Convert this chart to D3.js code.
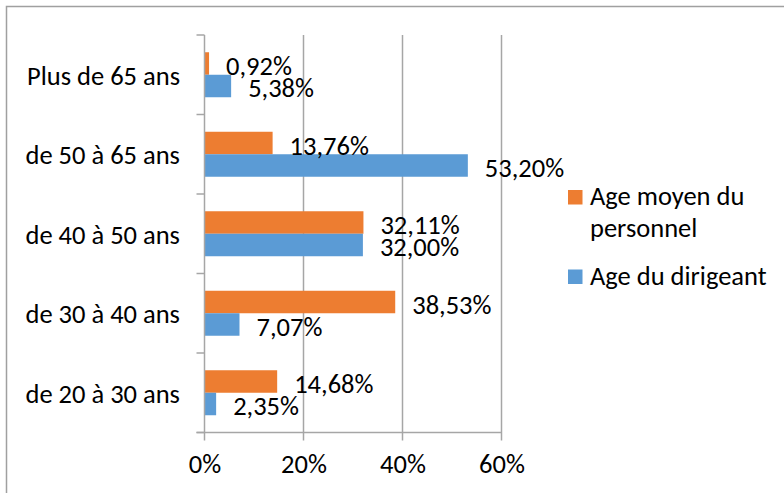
<!DOCTYPE html>
<html>
<head>
<meta charset="utf-8">
<script src="https://cdn.jsdelivr.net/npm/d3@7"></script>
<style>
  html, body { margin: 0; padding: 0; background: #fff; }
  svg { display: block; }
  text { font-family: Carlito, Calibri, Lato, "Open Sans", sans-serif; fill: #000; }
</style>
</head>
<body>
<svg id="chart" width="784" height="493"></svg>
<script>
// Age groups, listed top to bottom
const categories = ["Plus de 65 ans", "de 50 à 65 ans", "de 40 à 50 ans", "de 30 à 40 ans", "de 20 à 30 ans"];
const seriesNames = ["Age moyen du personnel", "Age du dirigeant"];
const personnel = [0.92, 13.76, 32.11, 38.53, 14.68];
const dirigeant = [5.38, 53.20, 32.00, 7.07, 2.35];
const xTicks = [0, 20, 40, 60];

const colors = { "Age moyen du personnel": "#ED7D31", "Age du dirigeant": "#5B9BD5" };
const values = { "Age moyen du personnel": personnel, "Age du dirigeant": dirigeant };

const svg = d3.select("#chart");
const plot = { left: 204.5, right: 501.5, top: 35, bottom: 432.5 };
const fontSize = 26.5;

// Chart frame
svg.append("rect")
  .attr("x", 6.5).attr("y", 6.5)
  .attr("width", 820).attr("height", 520)
  .attr("fill", "none").attr("stroke", "#a0a0a0").attr("stroke-width", 1.5);

const x = d3.scaleLinear().domain([0, 60]).range([plot.left, plot.right]);
const y0 = d3.scaleBand().domain(categories).range([plot.top, plot.bottom]);
const y1 = d3.scaleBand().domain(seriesNames).range([0, y0.bandwidth()]).paddingOuter(0.767);

// Vertical gridlines, extending below the axis as tick marks
svg.append("g").selectAll("line")
  .data(xTicks.filter(d => d > 0))
  .join("line")
  .attr("x1", d => x(d)).attr("x2", d => x(d))
  .attr("y1", plot.top).attr("y2", plot.bottom + 8)
  .attr("stroke", "#a6a6a6").attr("stroke-width", 1.5);

// Bars
const rows = categories.map((c, i) => ({ c, i }));
const groups = svg.append("g").selectAll("g")
  .data(rows)
  .join("g")
  .attr("transform", d => `translate(0,${y0(d.c)})`);

const fmt = v => d3.format(".2f")(v).replace(".", ",") + "%";

groups.selectAll("rect")
  .data(d => seriesNames.map(s => ({ s, v: values[s][d.i] })))
  .join("rect")
  .attr("x", x(0))
  .attr("y", d => y1(d.s))
  .attr("width", d => x(d.v) - x(0))
  .attr("height", y1.bandwidth())
  .attr("fill", d => colors[d.s]);

// Value labels outside the bar ends
groups.selectAll("text")
  .data(d => seriesNames.map(s => ({ s, v: values[s][d.i] })))
  .join("text")
  .attr("x", d => x(d.v) + 17)
  .attr("y", d => y1(d.s) + y1.bandwidth() / 2 + 2.5)
  .attr("dominant-baseline", "central")
  .attr("font-size", fontSize)
  .text(d => fmt(d.v));

// Category axis
const yAxisG = svg.append("g");
yAxisG.append("line")
  .attr("x1", plot.left).attr("x2", plot.left)
  .attr("y1", plot.top).attr("y2", plot.bottom + 8)
  .attr("stroke", "#a6a6a6").attr("stroke-width", 1.5);
yAxisG.selectAll("line.tick")
  .data(categories.map(c => y0(c)).concat([plot.bottom]))
  .join("line")
  .attr("class", "tick")
  .attr("x1", plot.left - 8).attr("x2", plot.left)
  .attr("y1", d => d).attr("y2", d => d)
  .attr("stroke", "#a6a6a6").attr("stroke-width", 1.5);
yAxisG.selectAll("text")
  .data(categories)
  .join("text")
  .attr("x", 180)
  .attr("y", d => y0(d) + y0.bandwidth() / 2 + 1)
  .attr("text-anchor", "end")
  .attr("dominant-baseline", "central")
  .attr("font-size", fontSize)
  .text(d => d);

// Value axis
const xAxis = d3.axisBottom(x).tickValues(xTicks).tickSize(0).tickPadding(22).tickFormat(d => d + "%");
const xAxisG = svg.append("g")
  .attr("transform", `translate(0,${plot.bottom})`)
  .call(xAxis);
xAxisG.select(".domain").remove();
xAxisG.selectAll("text").attr("font-size", fontSize).attr("fill", "#000")
  .style("font-family", "Carlito, Calibri, Lato, 'Open Sans', sans-serif");
svg.append("line")
  .attr("x1", plot.left - 8).attr("x2", plot.right)
  .attr("y1", plot.bottom).attr("y2", plot.bottom)
  .attr("stroke", "#a6a6a6").attr("stroke-width", 1.5);

// Legend
const legend = svg.append("g");
const legendItems = [
  { s: "Age moyen du personnel", lines: ["Age moyen du", "personnel"], y: 190 },
  { s: "Age du dirigeant", lines: ["Age du dirigeant"], y: 269.5 }
];
legendItems.forEach(item => {
  legend.append("rect")
    .attr("x", 568).attr("y", item.y)
    .attr("width", 14.5).attr("height", 14.5)
    .attr("fill", colors[item.s]);
  const t = legend.append("text")
    .attr("x", 590)
    .attr("y", item.y + 15)
    .attr("font-size", fontSize);
  item.lines.forEach((ln, k) => {
    t.append("tspan").attr("x", 590).attr("dy", k === 0 ? 0 : 32).text(ln);
  });
});
</script>
</body>
</html>
